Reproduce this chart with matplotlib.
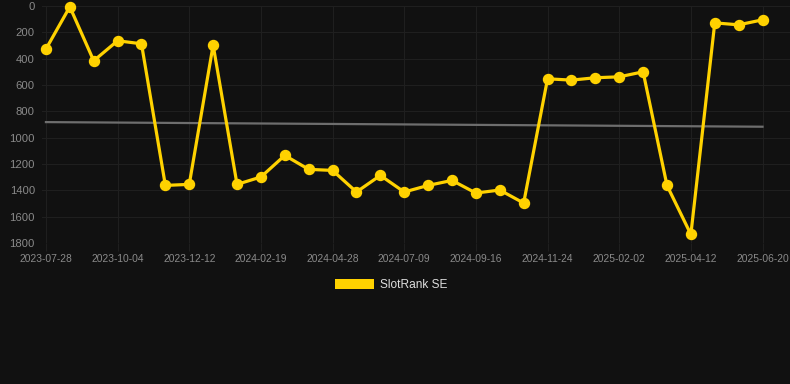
import numpy as np
import matplotlib
matplotlib.use("Agg")
from matplotlib import pyplot as plt
from matplotlib.patches import Patch

# rank values (lower is better, axis inverted)
rank = [326, 5, 415, 263, 286, 1362, 1354, 296, 1354, 1298, 1134,
        1240, 1248, 1412, 1286, 1412, 1362, 1324, 1420, 1397, 1496,
        552, 562, 544, 537, 499, 1362, 1734, 127, 142, 104]
tickLabels = ["2023-07-28", "2023-10-04", "2023-12-12", "2024-02-19",
              "2024-04-28", "2024-07-09", "2024-09-16", "2024-11-24",
              "2025-02-02", "2025-04-12", "2025-06-20"]
trend = [881, 916]
yTicks = [0, 200, 400, 600, 800, 1000, 1200, 1400, 1600, 1800]

bg = "#111111"
gold = "#FFD200"
gridCol = "#1f1f1f"

plt.rcParams['font.family'] = ['Liberation Sans', 'DejaVu Sans']

fig = plt.figure(figsize=(7.9, 3.84), dpi=100, facecolor=bg)
ax = fig.add_axes([0.053, 0.367, 0.947, 0.617], facecolor=bg)

x = np.arange(len(rank))
ax.plot([x[0], x[-1]], trend, color="#6e6e6e", lw=1.6, zorder=2)
ax.plot(x, rank, color=gold, lw=2.3, marker="o", ms=7.2,
        solid_joinstyle="miter", zorder=3, clip_on=False)

ax.set_ylim(1800, 0)
ax.set_xlim(-0.17, 31.15)
ax.set_yticks(yTicks)
ax.set_xticks(x[::3])
ax.set_xticklabels(tickLabels)
ax.grid(True, color=gridCol, lw=0.8)
for s in ax.spines.values():
    s.set_visible(False)
ax.tick_params(axis="x", colors=gridCol, length=6, width=0.8, pad=2,
               labelcolor="#8a8a8a", labelsize=7.4)
ax.tick_params(axis="y", length=0, pad=5, labelcolor="#8a8a8a", labelsize=8.1)

leg = fig.legend(handles=[Patch(facecolor=gold, label="SlotRank SE")],
                 loc="center", bbox_to_anchor=(0.495, 0.258), frameon=False,
                 handlelength=3.3, handleheight=1.0, fontsize=8.6,
                 labelcolor="#dddddd", handletextpad=0.5)

fig.savefig("out.png", dpi=100, facecolor=bg)
